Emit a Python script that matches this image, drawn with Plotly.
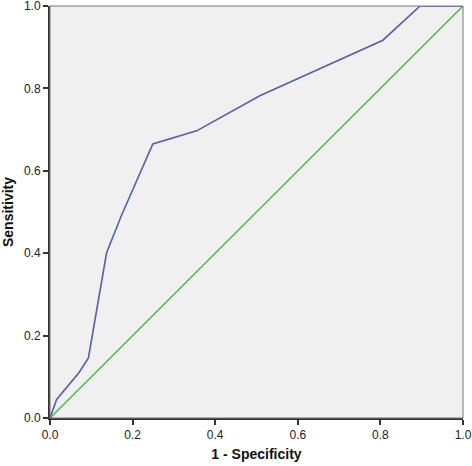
import plotly.graph_objects as go

fpr = [0.0, 0.016, 0.07, 0.093, 0.137, 0.174, 0.249, 0.355, 0.508, 0.806, 0.896, 1.0]
tpr = [0.0, 0.045, 0.11, 0.146, 0.401, 0.494, 0.665, 0.697, 0.782, 0.917, 1.0, 1.0]
ref_x = [0.0, 1.0]
ref_y = [0.0, 1.0]
tick_vals = [0.0, 0.2, 0.4, 0.6, 0.8, 1.0]
tick_text = ["0.0", "0.2", "0.4", "0.6", "0.8", "1.0"]

fig = go.Figure()
fig.add_trace(go.Scatter(x=ref_x, y=ref_y, mode="lines",
                         line=dict(color="#4cb84f", width=1.5), showlegend=False))
fig.add_trace(go.Scatter(x=fpr, y=tpr, mode="lines",
                         line=dict(color="#5560a8", width=1.6), showlegend=False))

axis_common = dict(
    range=[0, 1], tickvals=tick_vals, ticktext=tick_text,
    showgrid=False, zeroline=False, showline=True, linecolor="#333333", linewidth=2,
    ticks="outside", ticklen=5, tickwidth=1.5, tickcolor="#333333",
    tickfont=dict(family="Liberation Sans, Arial", size=12, color="#222222"),
    automargin=False, ticklabeloverflow="allow",
)
fig.update_layout(
    width=472, height=466,
    margin=dict(l=50, r=9, t=6, b=48, autoexpand=False),
    paper_bgcolor="white", plot_bgcolor="#f0f0f0",
    xaxis=dict(**axis_common,
               title=dict(text="<b>1 - Specificity</b>", standoff=8,
                          font=dict(family="Liberation Sans, Arial", size=14, color="#111111"))),
    yaxis=dict(**axis_common,
               title=dict(text="<b>Sensitivity</b>", standoff=8,
                          font=dict(family="Liberation Sans, Arial", size=14, color="#111111"))),
    shapes=[dict(type="rect", xref="paper", yref="paper", x0=0, y0=0, x1=1, y1=1,
                 line=dict(color="#777777", width=1), layer="above")],
)
fig.write_html("out.html", config={"displayModeBar": False},
               post_script="document.body.style.margin='0';document.body.style.overflow='hidden';")
